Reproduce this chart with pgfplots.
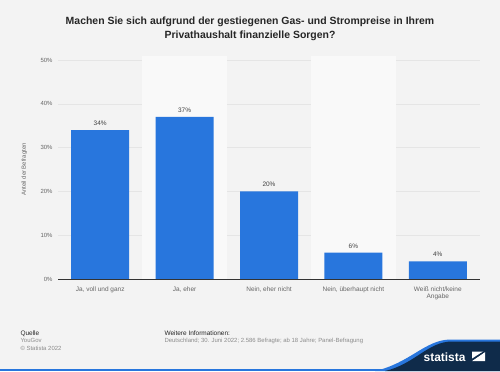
\documentclass[border=0pt]{standalone}
\usepackage{pgfplots}
\pgfplotsset{compat=1.18}
\usepackage{fontspec}
\setmainfont{Liberation Sans}
\definecolor{bg}{HTML}{F3F3F3}
\definecolor{band}{HTML}{F9F9F9}
\definecolor{barblue}{HTML}{2876DD}
\definecolor{navy}{HTML}{0F2B4A}
\definecolor{txtgray}{HTML}{666666}
\begin{document}
\begin{tikzpicture}[x=1bp,y=1bp]
\useasboundingbox (0,0) rectangle (500,371);
\fill[bg] (0,0) rectangle (500,371);
\node[font=\bfseries\fontsize{10.5}{14}\selectfont, text=black!85, align=center] at (250,342) {Machen Sie sich aufgrund der gestiegenen Gas- und Strompreise in Ihrem\\Privathaushalt finanzielle Sorgen?};
\begin{axis}[
  at={(58bp,92bp)}, anchor=south west,
  scale only axis, width=422bp, height=219bp,
  xmin=-0.5, xmax=4.5, ymin=0, ymax=50,
  axis line style={draw=none},
  xtick=data,
  xticklabels={{Ja, voll und ganz},{Ja, eher},{Nein, eher nicht},{Nein, überhaupt nicht},{Weiß nicht/keine\\Angabe}},
  x tick label style={font=\fontsize{6.5}{7.5}\selectfont, text=txtgray, align=center, yshift=-4bp},
  ytick={0,10,20,30,40,50},
  yticklabel={\pgfmathprintnumber{\tick}\%},
  y tick label style={font=\fontsize{6}{7}\selectfont, text=txtgray, xshift=-2bp},
  /pgf/number format/assume math mode=true,
  major tick length=0pt,
  ymajorgrids, grid style={draw=black!10, line width=0.5pt},
  ylabel={Anteil der Befragten},
  ylabel style={font=\fontsize{6}{7}\selectfont, text=txtgray, at={(axis description cs:-0.065,0.5)}},
  ybar, bar width=58bp,
  nodes near coords={\pgfmathprintnumber{\pgfplotspointmeta}\%},
  nodes near coords style={font=\fontsize{6.5}{7.5}\selectfont, text=black!75, yshift=1bp},
  clip=false,
  axis on top=false,
]
\fill[band] (axis cs:0.5,0) rectangle (axis cs:1.5,51);
\fill[band] (axis cs:2.5,0) rectangle (axis cs:3.5,51);
\addplot[fill=barblue, draw=none] coordinates {(0,34) (1,37) (2,20) (3,6) (4,4)};
\draw[black!80, line width=0.7pt] (axis cs:-0.5,0) -- (axis cs:4.5,0);
\end{axis}
% footer
\node[anchor=base west, font=\fontsize{6.5}{7}\selectfont, text=black!85] at (17,36) {Quelle};
\node[anchor=base west, font=\fontsize{6}{7}\selectfont, text=black!45] at (17,28.5) {YouGov};
\node[anchor=base west, font=\fontsize{6}{7}\selectfont, text=black!45] at (17,21) {© Statista 2022};
\node[anchor=base west, font=\fontsize{6.5}{7}\selectfont, text=black!85] at (161,36) {Weitere Informationen:};
\node[anchor=base west, font=\fontsize{6}{7}\selectfont, text=black!45] at (161,28.5) {Deutschland; 30. Juni 2022; 2.586 Befragte; ab 18 Jahre; Panel-Befragung};
% logo
\fill[barblue] (0,0) rectangle (500,2.5);
\fill[barblue] (375,0) .. controls (410,8) and (425,31) .. (450,31.5) -- (500,31.5) -- (500,0) -- cycle;
\fill[navy] (385,0) .. controls (415,7) and (428,29.5) .. (452,29.5) -- (500,29.5) -- (500,0) -- cycle;
\node[anchor=base east, font=\bfseries\fontsize{12}{12}\selectfont, text=white] at (469,10) {statista};
\fill[white] (472,10) -- (485,10) -- (485,19) -- cycle;
\fill[white] (472,10.8) -- (472,19.5) -- (484,19.5) -- cycle;
\fill[navy] (471.5,10) -- (485.5,19.5) -- (485.5,21) -- (470,11) -- cycle;
\end{tikzpicture}
\end{document}
